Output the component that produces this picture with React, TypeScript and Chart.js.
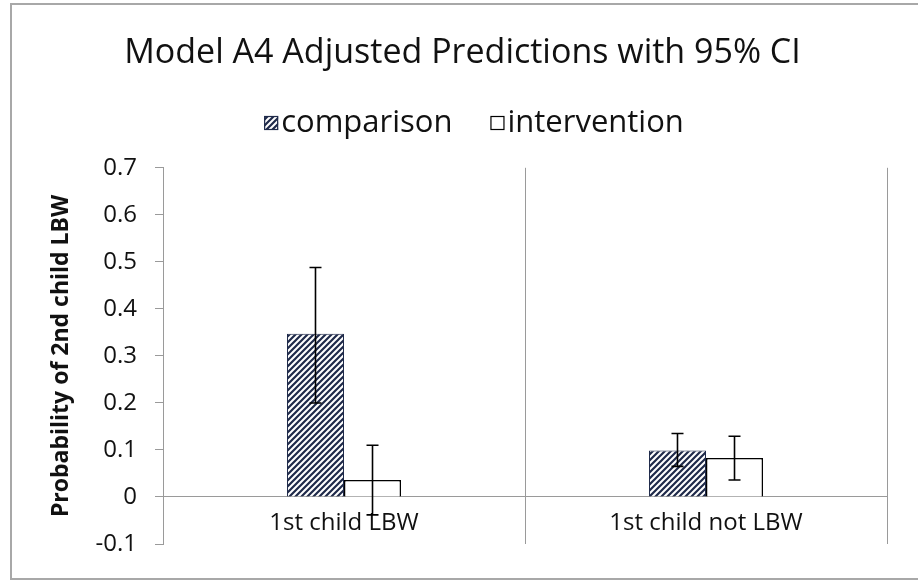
import React, { useEffect, useRef } from 'react';
import { Chart, registerables } from 'chart.js';

Chart.register(...registerables);

const chartTitle = 'Model A4 Adjusted Predictions with 95% CI';
const yAxisTitle = 'Probability of 2nd child LBW';
const categories = ['1st child LBW', '1st child not LBW'];
const seriesNames = ['comparison', 'intervention'];
const comparisonValues = [0.347, 0.099];
const interventionValues = [0.036, 0.083];
const comparisonLower = [0.2, 0.065];
const comparisonUpper = [0.488, 0.135];
const interventionLower = [-0.038, 0.036];
const interventionUpper = [0.11, 0.129];
const yTicks = [-0.1, 0, 0.1, 0.2, 0.3, 0.4, 0.5, 0.6, 0.7];

const FONT = '"Open Sans", "DejaVu Sans", sans-serif';
const NAVY = '#1F2A4A';
const GRID = '#9A9A9A';
const TEXT = '#111111';

function makeHatch(): CanvasPattern | string {
  const s = 6;
  const c = document.createElement('canvas');
  c.width = s;
  c.height = s;
  const g = c.getContext('2d');
  if (!g) return NAVY;
  g.fillStyle = '#ffffff';
  g.fillRect(0, 0, s, s);
  g.strokeStyle = NAVY;
  g.lineWidth = 2.2;
  g.beginPath();
  g.moveTo(0, s);
  g.lineTo(s, 0);
  g.moveTo(-s / 2, s / 2);
  g.lineTo(s / 2, -s / 2);
  g.moveTo(s / 2, s * 1.5);
  g.lineTo(s * 1.5, s / 2);
  g.stroke();
  return g.createPattern(c, 'repeat') || NAVY;
}

const framePlugin = {
  id: 'frame',
  beforeDraw(chart: any) {
    const ctx = chart.ctx;
    ctx.save();
    ctx.fillStyle = '#ffffff';
    ctx.fillRect(0, 0, chart.width, chart.height);
    ctx.strokeStyle = '#A8A8A8';
    ctx.lineWidth = 2;
    ctx.strokeRect(11, 4, chart.width + 10, 575);
    ctx.restore();
  },
};

const errorBarPlugin = {
  id: 'errorBars',
  afterDatasetsDraw(chart: any) {
    const ctx = chart.ctx;
    const yScale = chart.scales.y;
    const lows = [comparisonLower, interventionLower];
    const highs = [comparisonUpper, interventionUpper];
    ctx.save();
    ctx.strokeStyle = '#000000';
    ctx.lineWidth = 1.6;
    chart.data.datasets.forEach((_: any, d: number) => {
      const meta = chart.getDatasetMeta(d);
      meta.data.forEach((bar: any, i: number) => {
        const x = bar.x;
        const y1 = yScale.getPixelForValue(lows[d][i]);
        const y2 = yScale.getPixelForValue(highs[d][i]);
        const cap = 6;
        ctx.beginPath();
        ctx.moveTo(x, y1);
        ctx.lineTo(x, y2);
        ctx.moveTo(x - cap, y1);
        ctx.lineTo(x + cap, y1);
        ctx.moveTo(x - cap, y2);
        ctx.lineTo(x + cap, y2);
        ctx.stroke();
      });
    });
    ctx.restore();
  },
};

const legendPlugin = {
  id: 'customLegend',
  afterDraw(chart: any) {
    const ctx = chart.ctx;
    ctx.save();
    ctx.font = `500 31px ${FONT}`;
    ctx.textBaseline = 'middle';
    ctx.textAlign = 'left';
    const box = 14;
    const gap = 3;
    const spacing = 38;
    const items = chart.data.datasets.map((ds: any) => ({
      label: ds.label,
      fill: ds.backgroundColor,
      stroke: ds.borderColor,
      w: ctx.measureText(ds.label).width,
    }));
    let total = 0;
    items.forEach((it: any, i: number) => {
      total += box + gap + it.w + (i > 0 ? spacing : 0);
    });
    const cx = 474;
    const cy = 123;
    let x = cx - total / 2;
    items.forEach((it: any) => {
      ctx.fillStyle = it.fill;
      ctx.fillRect(x, cy - box / 2, box, box);
      ctx.strokeStyle = it.stroke;
      ctx.lineWidth = 1.2;
      ctx.strokeRect(x + 0.5, cy - box / 2 + 0.5, box - 1, box - 1);
      ctx.fillStyle = TEXT;
      ctx.fillText(it.label, x + box + gap, cy);
      x += box + gap + it.w + spacing;
    });
    ctx.restore();
  },
};

export default function App() {
  const ref = useRef<HTMLCanvasElement | null>(null);

  useEffect(() => {
    if (!ref.current) return;
    const hatch = makeHatch();
    const chart = new Chart(ref.current, {
      type: 'bar',
      data: {
        labels: categories,
        datasets: [
          {
            label: seriesNames[0],
            data: comparisonValues,
            backgroundColor: hatch as any,
            borderColor: NAVY,
            borderWidth: 1,
          },
          {
            label: seriesNames[1],
            data: interventionValues,
            backgroundColor: '#ffffff',
            borderColor: '#000000',
            borderWidth: 1.5,
          },
        ],
      },
      options: {
        responsive: false,
        animation: false,
        events: [],
        datasets: {
          bar: { barPercentage: 1, categoryPercentage: 0.315 },
        },
        layout: { padding: { top: 10, left: 38, right: 31, bottom: 37 } },
        plugins: {
          legend: { display: false },
          tooltip: { enabled: false },
          title: {
            display: true,
            text: chartTitle,
            color: TEXT,
            font: { family: FONT, size: 34, weight: '500' as any },
            padding: { top: 23, bottom: 94 },
          },
        },
        scales: {
          x: {
            type: 'category',
            position: { y: 0 } as any,
            offset: true,
            grid: { offset: true, drawTicks: false, color: GRID, lineWidth: 1 },
            border: { display: true, color: GRID, width: 1 },
            ticks: {
              color: TEXT,
              font: { family: FONT, size: 24, weight: '500' as any },
              padding: 12,
              maxRotation: 0,
              autoSkip: false,
            },
          },
          y: {
            min: -0.1,
            max: 0.7,
            afterFit: (s: any) => {
              s.width = 125;
            },
            afterBuildTicks: (s: any) => {
              s.ticks = yTicks.map((v) => ({ value: v }));
            },
            grid: { drawOnChartArea: false, drawTicks: true, tickLength: 8, color: GRID },
            border: { display: true, color: GRID, width: 1 },
            ticks: {
              color: TEXT,
              font: { family: FONT, size: 24, weight: '500' as any },
              padding: 18,
              callback: (v: any) => (Math.abs(Number(v)) < 1e-9 ? '0' : Number(v).toFixed(1)),
            },
            title: {
              display: true,
              text: yAxisTitle,
              color: TEXT,
              font: { family: FONT, size: 23, weight: 'bold' },
              padding: { top: 10, bottom: 0 },
            },
          },
        },
      },
      plugins: [framePlugin, errorBarPlugin, legendPlugin],
    });
    return () => chart.destroy();
  }, []);

  return (
    <canvas
      ref={ref}
      width={918}
      height={581}
      style={{ position: 'absolute', left: 0, top: 0, display: 'block', width: 918, height: 581 }}
    />
  );
}
